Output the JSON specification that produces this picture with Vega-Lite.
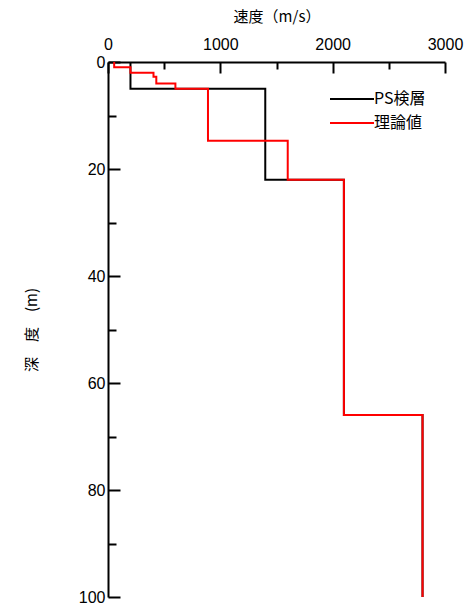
{
  "$schema": "https://vega.github.io/schema/vega-lite/v6.json",
  "width": 337,
  "height": 535,
  "autosize": "none",
  "padding": {"left": 108, "top": 62, "right": 21, "bottom": 9},
  "background": "white",
  "config": {
    "view": {"stroke": null},
    "font": "Liberation Sans"
  },
  "data": {
    "values": [
      {"series": "PS検層", "i": 0, "velocity": 200, "depth": 0},
      {"series": "PS検層", "i": 1, "velocity": 200, "depth": 5},
      {"series": "PS検層", "i": 2, "velocity": 1400, "depth": 5},
      {"series": "PS検層", "i": 3, "velocity": 1400, "depth": 22},
      {"series": "PS検層", "i": 4, "velocity": 2100, "depth": 22},
      {"series": "PS検層", "i": 5, "velocity": 2100, "depth": 66},
      {"series": "PS検層", "i": 6, "velocity": 2800, "depth": 66},
      {"series": "PS検層", "i": 7, "velocity": 2800, "depth": 100},
      {"series": "理論値", "i": 0, "velocity": 55, "depth": 0},
      {"series": "理論値", "i": 1, "velocity": 55, "depth": 1},
      {"series": "理論値", "i": 2, "velocity": 200, "depth": 1},
      {"series": "理論値", "i": 3, "velocity": 200, "depth": 2},
      {"series": "理論値", "i": 4, "velocity": 405, "depth": 2},
      {"series": "理論値", "i": 5, "velocity": 405, "depth": 2.75},
      {"series": "理論値", "i": 6, "velocity": 430, "depth": 2.75},
      {"series": "理論値", "i": 7, "velocity": 430, "depth": 4},
      {"series": "理論値", "i": 8, "velocity": 600, "depth": 4},
      {"series": "理論値", "i": 9, "velocity": 600, "depth": 5},
      {"series": "理論値", "i": 10, "velocity": 890, "depth": 5},
      {"series": "理論値", "i": 11, "velocity": 890, "depth": 14.7},
      {"series": "理論値", "i": 12, "velocity": 1600, "depth": 14.7},
      {"series": "理論値", "i": 13, "velocity": 1600, "depth": 22},
      {"series": "理論値", "i": 14, "velocity": 2100, "depth": 22},
      {"series": "理論値", "i": 15, "velocity": 2100, "depth": 66},
      {"series": "理論値", "i": 16, "velocity": 2800, "depth": 66},
      {"series": "理論値", "i": 17, "velocity": 2800, "depth": 100}
    ]
  },
  "mark": {"type": "line", "strokeWidth": 2, "clip": false},
  "encoding": {
    "x": {
      "field": "velocity",
      "type": "quantitative",
      "scale": {"domain": [0, 3000], "nice": false, "zero": false},
      "axis": {
        "orient": "top",
        "title": "速度（m/s）",
        "titleFont": "Noto Sans CJK JP",
        "titleFontSize": 15,
        "titleFontWeight": "normal",
        "titleColor": "black",
        "titlePadding": 8,
        "values": [0, 500, 1000, 1500, 2000, 2500, 3000],
        "labelExpr": "datum.value % 1000 === 0 ? datum.label : ''",
        "format": "d",
        "labelFontSize": 16,
        "labelColor": "black",
        "labelPadding": 21,
        "labelFlush": false,
        "labelOverlap": false,
        "grid": false,
        "domainColor": "black",
        "domainWidth": 2,
        "tickColor": "black",
        "tickWidth": 2,
        "tickSize": {"condition": {"test": "datum.value % 1000 === 0", "value": -11}, "value": -7}
      }
    },
    "y": {
      "field": "depth",
      "type": "quantitative",
      "scale": {"domain": [0, 100], "nice": false, "reverse": true, "zero": false},
      "axis": {
        "title": "深　度　(m)",
        "titleFont": "Noto Sans CJK JP",
        "titleFontSize": 15,
        "titleFontWeight": "normal",
        "titleColor": "black",
        "titlePadding": 39,
        "values": [0, 10, 20, 30, 40, 50, 60, 70, 80, 90, 100],
        "labelExpr": "datum.value % 20 === 0 ? datum.label : ''",
        "labelFontSize": 16,
        "labelColor": "black",
        "labelPadding": 15,
        "labelFlush": false,
        "labelOverlap": false,
        "grid": false,
        "domainColor": "black",
        "domainWidth": 2,
        "tickColor": "black",
        "tickWidth": 2,
        "tickSize": {"condition": {"test": "datum.value % 20 === 0", "value": -12}, "value": -8}
      }
    },
    "color": {
      "field": "series",
      "type": "nominal",
      "scale": {"domain": ["PS検層", "理論値"], "range": ["black", "red"]},
      "legend": {
        "title": null,
        "orient": "none",
        "legendX": 232,
        "legendY": 25,
        "symbolType": "M-2,0H2",
        "symbolSize": 484,
        "symbolStrokeWidth": 2,
        "labelFont": "Noto Sans CJK JP",
        "labelFontSize": 16,
        "labelColor": "black",
        "labelOffset": 10,
        "rowPadding": 4
      }
    },
    "order": {"field": "i", "type": "quantitative"}
  }
}
